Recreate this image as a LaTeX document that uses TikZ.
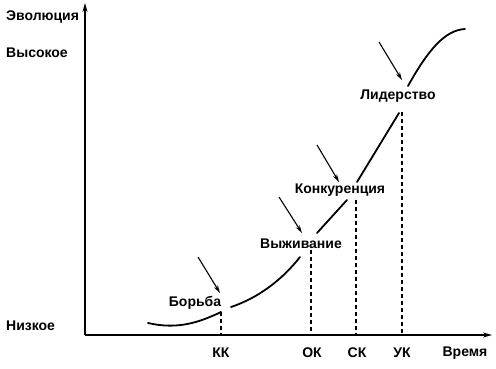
\documentclass[tikz,border=0pt]{standalone}
\usepackage{fontspec}
\setmainfont{Liberation Sans}
\usetikzlibrary{arrows.meta}
\begin{document}
\begin{tikzpicture}[x=1pt,y=-1pt,
  lbl/.style={font=\bfseries\fontsize{14}{16}\selectfont, inner sep=0pt},
  axisline/.style={line width=1.3pt},
  curveline/.style={line width=1.8pt, line cap=round},
  pointer/.style={line width=1.1pt, -{Stealth[length=8pt,width=4.5pt]}},
  guide/.style={line width=1.3pt, dash pattern=on 4pt off 3pt}]
\useasboundingbox (0,0) rectangle (496,368);
% axes
\coordinate (O) at (85,335);
\coordinate (ytop) at (85,3);
\coordinate (xend) at (492,335);
\draw[axisline,-{Stealth[length=9pt,width=5pt]}] (O) -- (ytop);
\draw[axisline,-{Stealth[length=9pt,width=5pt]}] (O) -- (xend);
% axis labels
\node[lbl,anchor=west] (evo) at (6,17) {Эволюция};
\node[lbl,anchor=west] (high) at (6,53) {Высокое};
\node[lbl,anchor=west] (low) at (6,326) {Низкое};
\node[lbl] (kk) at (221,353) {КК};
\node[lbl] (ok) at (312,353) {ОК};
\node[lbl] (sk) at (357,353) {СК};
\node[lbl] (uk) at (402,353) {УК};
\node[lbl] (time) at (465,353) {Время};
% guides
\coordinate (g1) at (221,312); \coordinate (b1) at (221,335);
\coordinate (g2) at (311,250); \coordinate (b2) at (311,335);
\coordinate (g3) at (356,200); \coordinate (b3) at (356,335);
\coordinate (g4) at (402,112); \coordinate (b4) at (402,335);
\draw[guide] (g1) -- (b1);
\draw[guide] (g2) -- (b2);
\draw[guide] (g3) -- (b3);
\draw[guide] (g4) -- (b4);
% curve
\coordinate (c1) at (148,323);
\coordinate (c2) at (231,307); \coordinate (c2e) at (300,257);
\coordinate (c3) at (317,233); \coordinate (c3e) at (347,200);
\coordinate (c4) at (357,182); \coordinate (c4e) at (399,113);
\coordinate (c5) at (408,86);  \coordinate (c5e) at (465,29);
\draw[curveline] (c1) .. controls (178,330) and (200,322) .. (g1);
\draw[curveline] (c2) .. controls (258,298) and (282,280) .. (c2e);
\draw[curveline] (c3) -- (c3e);
\draw[curveline] (c4) -- (c4e);
\draw[curveline] (c5) .. controls (428,50) and (445,30) .. (c5e);
% stage labels
\node[lbl] (borba) at (195,303) {Борьба};
\node[lbl] (vyzh) at (301,244) {Выживание};
\node[lbl] (konk) at (340,190) {Конкуренция};
\node[lbl] (lid) at (398,96) {Лидерство};
% pointers
\coordinate (p1) at (198,257); \coordinate (t1) at (220,293);
\coordinate (p2) at (279,197); \coordinate (t2) at (302,233);
\coordinate (p3) at (317,145); \coordinate (t3) at (339,182);
\coordinate (p4) at (379,42);  \coordinate (t4) at (402,80);
\draw[pointer] (p1) -- (t1);
\draw[pointer] (p2) -- (t2);
\draw[pointer] (p3) -- (t3);
\draw[pointer] (p4) -- (t4);
\end{tikzpicture}
\end{document}
